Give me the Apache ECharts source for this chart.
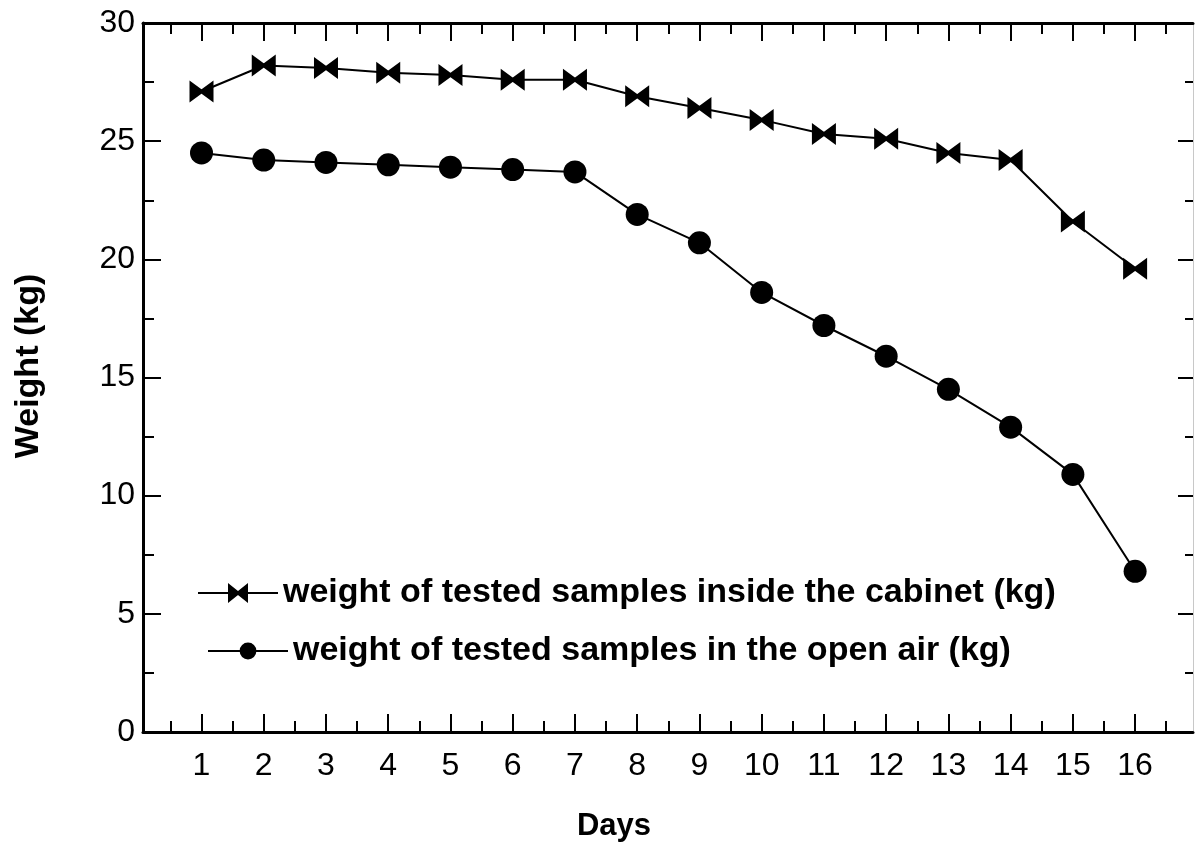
<!DOCTYPE html>
<html>
<head>
<meta charset="utf-8">
<script src="https://cdn.jsdelivr.net/npm/echarts@6/dist/echarts.min.js"></script>
<style>
  html, body { margin: 0; padding: 0; background: #fff; }
  #chart { width: 1195px; height: 845px; }
</style>
</head>
<body>
<div id="chart"></div>
<script>
const days = [1, 2, 3, 4, 5, 6, 7, 8, 9, 10, 11, 12, 13, 14, 15, 16];
const cabinetWeight = [27.1, 28.2, 28.1, 27.9, 27.8, 27.6, 27.6, 26.9, 26.4, 25.9, 25.3, 25.1, 24.5, 24.2, 21.6, 19.6];
const openAirWeight = [24.5, 24.2, 24.1, 24.0, 23.9, 23.8, 23.7, 21.9, 20.7, 18.6, 17.2, 15.9, 14.5, 12.9, 10.9, 6.8];
const minorDayTicks = [0.5, 1.5, 2.5, 3.5, 4.5, 5.5, 6.5, 7.5, 8.5, 9.5, 10.5, 11.5, 12.5, 13.5, 14.5, 15.5, 16.5];

const cabinetName = "weight of tested samples inside the cabinet (kg)";
const openAirName = "weight of tested samples in the open air (kg)";

const FONT = "'Liberation Sans', Arial, sans-serif";
// two triangles pointing at each other, same winding so the overlap stays filled
const bowtie = "path://M0,0L15,11L0,22ZM24,0L24,22L9,11Z";

const chart = echarts.init(document.getElementById("chart"));

// x axis range picked so that day 1 and day 16 sit where they do in the figure
const xMin = 0.06, xMax = 16.93;

function xAxisLayer(position, tickValues, tickLen, withLine, withLabels) {
  return {
    type: "value",
    position: position,
    min: xMin,
    max: xMax,
    axisLine: { show: withLine, lineStyle: { color: "#000", width: 3 } },
    axisTick: {
      show: true,
      inside: true,
      length: tickLen,
      customValues: tickValues,
      lineStyle: { color: "#000", width: 2 },
    },
    axisLabel: {
      show: withLabels,
      customValues: days,
      color: "#000",
      fontSize: 32,
      fontFamily: FONT,
      margin: 18,
    },
    splitLine: { show: false },
  };
}

chart.setOption({
  backgroundColor: "#fff",
  animation: false,
  grid: { left: 143, right: 2, top: 23, bottom: 113, containLabel: false },

  xAxis: [
    xAxisLayer("bottom", days, 18, true, true),
    xAxisLayer("bottom", minorDayTicks, 11, false, false),
    xAxisLayer("top", days, 18, true, false),
    xAxisLayer("top", minorDayTicks, 11, false, false),
  ],

  yAxis: [
    {
      type: "value",
      position: "left",
      min: 0,
      max: 30,
      interval: 5,
      axisLine: { show: true, lineStyle: { color: "#000", width: 3 } },
      axisTick: { inside: true, length: 18, lineStyle: { color: "#000", width: 2 } },
      minorTick: { show: true, splitNumber: 2, length: 11, lineStyle: { color: "#000", width: 2 } },
      axisLabel: { color: "#000", fontSize: 32, fontFamily: FONT, margin: 8 },
      splitLine: { show: false },
    },
    {
      type: "value",
      position: "right",
      min: 0,
      max: 30,
      interval: 5,
      axisLine: { show: true, lineStyle: { color: "#c8c8c8", width: 1 } },
      axisTick: { inside: true, length: 15, lineStyle: { color: "#000", width: 2 } },
      minorTick: { show: true, splitNumber: 2, length: 8, lineStyle: { color: "#000", width: 2 } },
      axisLabel: { show: false },
      splitLine: { show: false },
    },
  ],

  legend: [
    {
      data: [cabinetName],
      left: 197,
      top: 576,
      padding: 0,
      itemWidth: 80,
      itemHeight: 25,
      textStyle: { color: "#000", fontSize: 34, fontWeight: "bold", fontFamily: FONT },
    },
    {
      data: [openAirName],
      left: 207,
      top: 634,
      padding: 0,
      itemWidth: 80,
      itemHeight: 21,
      textStyle: { color: "#000", fontSize: 34, fontWeight: "bold", fontFamily: FONT },
    },
  ],

  graphic: [
    {
      type: "text",
      x: 29,
      y: 366,
      rotation: Math.PI / 2,
      style: {
        text: "Weight (kg)",
        font: "bold 34px " + FONT,
        fill: "#000",
        align: "center",
        verticalAlign: "middle",
      },
    },
    {
      type: "text",
      x: 614,
      y: 826,
      style: {
        text: "Days",
        font: "bold 31px " + FONT,
        fill: "#000",
        align: "center",
        verticalAlign: "middle",
      },
    },
  ],

  series: [
    {
      name: cabinetName,
      type: "line",
      xAxisIndex: 0,
      yAxisIndex: 0,
      data: days.map((d, i) => [d, cabinetWeight[i]]),
      symbol: bowtie,
      symbolSize: [24, 22],
      itemStyle: { color: "#000" },
      lineStyle: { color: "#000", width: 2 },
    },
    {
      name: openAirName,
      type: "line",
      xAxisIndex: 0,
      yAxisIndex: 0,
      data: days.map((d, i) => [d, openAirWeight[i]]),
      symbol: "circle",
      symbolSize: 23,
      itemStyle: { color: "#000" },
      lineStyle: { color: "#000", width: 2 },
    },
  ],
});

window.addEventListener("resize", () => chart.resize());
</script>
</body>
</html>
